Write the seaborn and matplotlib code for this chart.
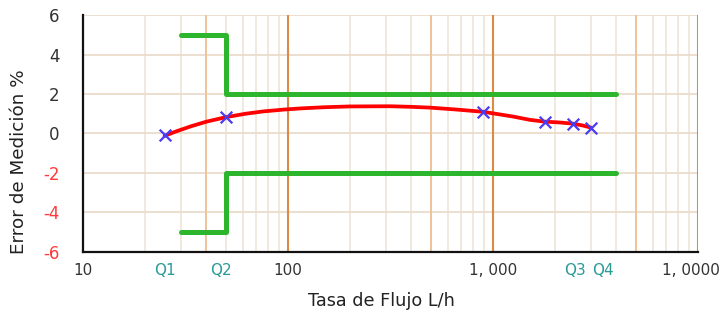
import numpy as np
import pandas as pd
import seaborn as sns
import matplotlib.pyplot as plt
from matplotlib.transforms import ScaledTranslation

# Datos

# puntos medidos (caudal L/h, error %)
caudal_medido = [25, 50, 893, 1790, 2450, 3000]
error_medido = [-0.1, 0.85, 1.1, 0.6, 0.5, 0.3]

# curva roja (puntos leídos a lo largo de la línea)
caudal_curva = [25, 28, 33.5, 40, 50, 62, 76, 95, 115, 150, 200, 315, 400, 493, 650,
                893, 1000, 1250, 1514, 1790, 2100, 2450, 2750, 3000]
error_curva = [-0.12, 0.08, 0.36, 0.6, 0.83, 1.0, 1.12, 1.21, 1.27, 1.33, 1.37, 1.38, 1.35, 1.31, 1.22,
               1.1, 1.02, 0.86, 0.69, 0.6, 0.56, 0.5, 0.4, 0.3]

# límites de error máximo permitido
caudal_limite = [30, 50, 50, 4000]
limite_sup = [5, 5, 2, 2]
limite_inf = [-5, -5, -2, -2]

# ticks
xticks = [10, 25, 47, 100, 1000, 2500, 3450, 10000]
xticklabels = ["10", "Q1", "Q2", "100", "1, 000", "Q3", "Q4", "1, 0000"]
yticks = [6, 4, 2, 0, -2, -4, -6]

lineas_mayores = [100, 1000, 10000]
lineas_medias = [40, 500, 5000]

df_curva = pd.DataFrame({"caudal": caudal_curva, "error": error_curva})
df_med = pd.DataFrame({"caudal": caudal_medido, "error": error_medido})
df_sup = pd.DataFrame({"caudal": caudal_limite, "error": limite_sup})
df_inf = pd.DataFrame({"caudal": caudal_limite, "error": limite_inf})

sns.set_style("white")
plt.rcParams["font.family"] = ["DejaVu Sans"]

fig = plt.figure(figsize=(7.25, 3.13), dpi=100)
ax = fig.add_axes([0.1145, 0.195, 0.8483, 0.757])

ax.set_xscale("log")
ax.set_xlim(10, 10000)
ax.set_ylim(-6, 6)

# Rejilla
ax.set_xticks([v * d for d in [10, 100, 1000] for v in range(2, 10)], minor=True)
ax.grid(which="minor", axis="x", color="#efe2d4", lw=1.1)
ax.set_yticks(yticks)
ax.grid(which="major", axis="y", color="#eadccb", lw=1.3)
ax.grid(which="major", axis="x", visible=False)
for v in lineas_medias:
    ax.axvline(v, color="#efc49c", lw=1.4, zorder=1)
for v in lineas_mayores:
    ax.axvline(v, color="#dd8a45", lw=1.5, zorder=1)

# Límites
sns.lineplot(data=df_sup, x="caudal", y="error", sort=False, estimator=None,
             color="#2db52d", lw=3.6, ax=ax, zorder=3)
sns.lineplot(data=df_inf, x="caudal", y="error", sort=False, estimator=None,
             color="#2db52d", lw=3.6, ax=ax, zorder=3)

# Curva de error
sns.lineplot(data=df_curva, x="caudal", y="error", sort=False, estimator=None,
             color="#ff0000", lw=2.7, ax=ax, zorder=4)
sns.scatterplot(data=df_med, x="caudal", y="error", marker="x", color="#4a3cf0", s=70,
                linewidth=1.6, ax=ax, zorder=5)

# Ejes
ax.set_xticks(xticks)
ax.set_xticklabels(xticklabels)
ax.set_xticks([v * d for d in [10, 100, 1000] for v in range(2, 10)], minor=True)
ax.set_yticks(yticks)
ax.set_yticklabels([str(v) for v in yticks])
ax.tick_params(axis="both", which="both", length=0)
ax.tick_params(axis="x", pad=8, labelsize=11)
ax.tick_params(axis="y", pad=17, labelsize=12)
for lab in ax.get_xticklabels():
    lab.set_color("#2a9a96" if lab.get_text().startswith("Q") else "#333333")
    if lab.get_text() == "1, 0000":
        lab.set_transform(lab.get_transform() + ScaledTranslation(-7 / 100, 0, fig.dpi_scale_trans))
for lab, v in zip(ax.get_yticklabels(), yticks):
    lab.set_color("#ff3a3a" if v < 0 else "#333333")

for s in ["top", "right"]:
    ax.spines[s].set_visible(False)
for s in ["left", "bottom"]:
    ax.spines[s].set_color("#111111")
    ax.spines[s].set_linewidth(1.6)

ax.set_xlabel("Tasa de Flujo L/h", fontsize=12.7, color="#222222")
ax.set_ylabel("Error de Medición %", fontsize=13.2, color="#222222")
ax.xaxis.set_label_coords(0.486, -0.17)
ax.yaxis.set_label_coords(-0.089, 0.38)

fig.savefig("out.png", dpi=100)
